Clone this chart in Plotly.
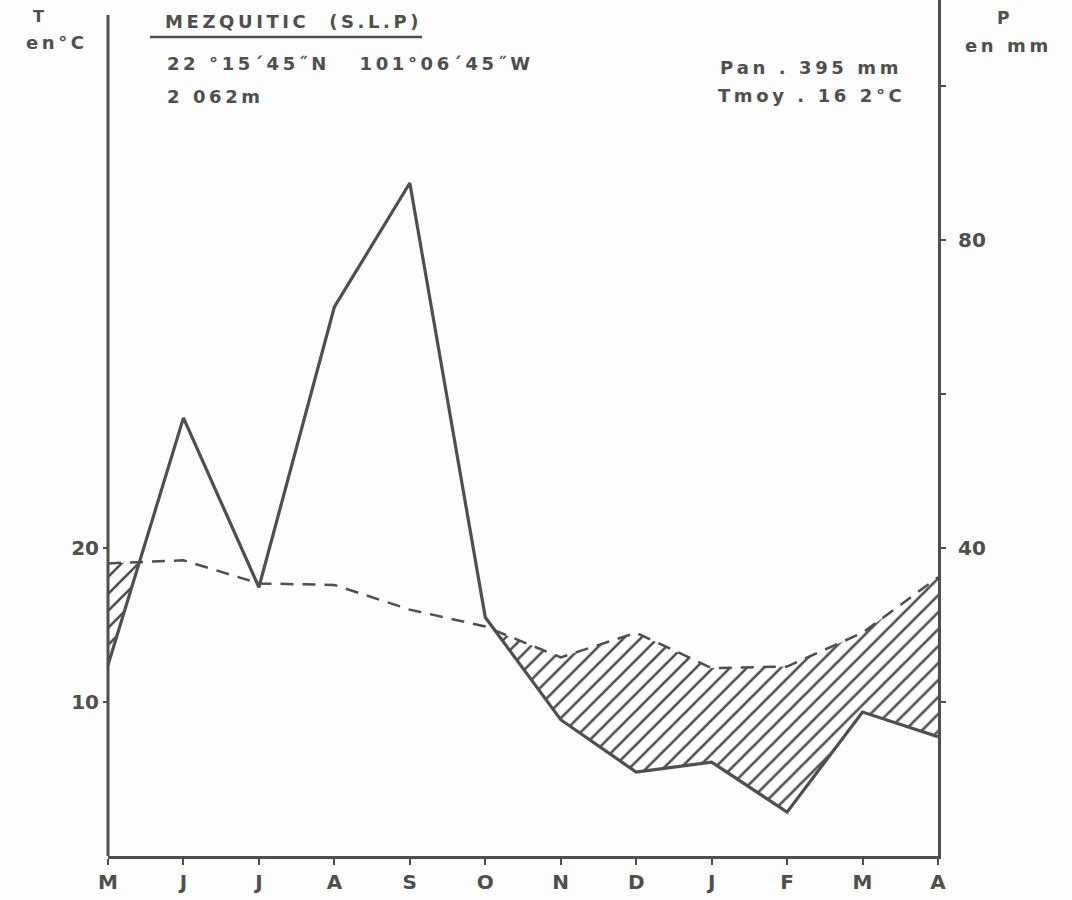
import plotly.graph_objects as go

# Ombrothermic diagram, Mezquitic (S.L.P), May to April
months = ["M", "J", "J", "A", "S", "O", "N", "D", "J", "F", "M", "A"]
precip_mm = [24.8, 56.9, 34.9, 71.3, 87.4, 31.0, 17.7, 10.9, 12.2, 5.7, 18.7, 15.5]
temp_c = [19.0, 19.2, 17.7, 17.6, 16.0, 14.9, 12.9, 14.5, 12.2, 12.3, 14.5, 18.1]

t_ticks = [10, 20]
p_ticks = [20, 40, 60, 80, 100]
p_ticklabels = ["", "40", "", "80", ""]

INK = "#4f4f4d"
FONT = "DejaVu Sans"

# Page geometry (pixels) of the plotting box
W, H = 1072, 900
L, R, T, B = 108, 938, 0, 856
P_MAX = (B - T) / 7.7          # mm at top of the box (P = 2T scale)
T_MAX = P_MAX / 2.0

x = list(range(len(months)))
two_t = [2 * v for v in temp_c]

# Dry-period envelope: insert crossing points between P and 2T
hx, lower, upper = [], [], []
for i in range(len(x)):
    if i > 0:
        d0 = two_t[i - 1] - precip_mm[i - 1]
        d1 = two_t[i] - precip_mm[i]
        if d0 * d1 < 0:
            f = d0 / (d0 - d1)
            xc = x[i - 1] + f * (x[i] - x[i - 1])
            pc = precip_mm[i - 1] + f * (precip_mm[i] - precip_mm[i - 1])
            hx.append(xc)
            lower.append(pc)
            upper.append(pc)
    hx.append(x[i])
    lower.append(precip_mm[i])
    upper.append(max(precip_mm[i], two_t[i]))

fig = go.Figure()
fig.add_trace(go.Scatter(x=hx, y=lower, yaxis="y2", mode="lines",
                         line=dict(width=0, color="rgba(0,0,0,0)"),
                         hoverinfo="skip", showlegend=False))
fig.add_trace(go.Scatter(x=hx, y=upper, yaxis="y2", mode="lines",
                         line=dict(width=0, color="rgba(0,0,0,0)"),
                         fill="tonexty", fillcolor="rgba(0,0,0,0)",
                         fillpattern=dict(shape="/", fgcolor=INK, fgopacity=1,
                                          bgcolor="rgba(0,0,0,0)", size=12, solidity=0.22),
                         hoverinfo="skip", showlegend=False))
fig.add_trace(go.Scatter(x=x, y=temp_c, yaxis="y", mode="lines",
                         line=dict(color=INK, width=2.5, dash="13px,9px"),
                         showlegend=False, name="T"))
fig.add_trace(go.Scatter(x=x, y=precip_mm, yaxis="y2", mode="lines",
                         line=dict(color=INK, width=3.2),
                         showlegend=False, name="P"))


def px(xp, yp):
    return (xp - L) / (R - L), (B - yp) / (B - T)


def spaced(s, sep="\u2009"):
    # hand-lettered look: a thin space between glyphs
    return sep.join(s)


def label(xp, yp, text, size=17, anchor="left", **kw):
    ax, ay = px(xp, yp)
    fig.add_annotation(x=ax, y=ay, xref="paper", yref="paper", text=text,
                       showarrow=False, xanchor=anchor, yanchor="middle",
                       font=dict(family=FONT, size=size, color=INK, weight="bold", **kw))


label(38, 17, "T", size=16, anchor="center")
label(55, 43, spaced("en°C"), size=18, anchor="center")
label(1003, 18, "P", size=17, anchor="center")
label(1006, 45, spaced("en mm"), size=18, anchor="center")
label(163, 21, spaced("MEZQUITIC  (S.L.P)"), size=18)
label(165, 63, spaced("22 °15´45˝N   101°06´45˝W"), size=18)
label(165, 97, spaced("2 062m"), size=18)
label(718, 67, spaced("Pan . 395 mm"), size=18)
label(716, 95, spaced("Tmoy . 16 2°C"), size=18)

# underline under the station name
u0 = px(150, 37)
u1 = px(422, 37)
fig.add_shape(type="line", xref="paper", yref="paper", x0=u0[0], x1=u1[0], y0=u0[1], y1=u1[1],
              line=dict(color=INK, width=2.5))
# left (temperature) axis line, starting a little below the top
a0 = px(L, 15)
fig.add_shape(type="line", xref="paper", yref="paper", x0=0, x1=0, y0=0, y1=a0[1],
              line=dict(color=INK, width=3))

tick_font = dict(family=FONT, size=20, color=INK, weight="bold")
fig.update_layout(
    width=W, height=H,
    margin=dict(l=L, r=W - R, t=T, b=H - B),
    paper_bgcolor="#fdfdfd", plot_bgcolor="#fdfdfd",
    showlegend=False,
    xaxis=dict(range=[0, 11], tickvals=x, ticktext=months, showgrid=False, zeroline=False,
               showline=True, linecolor=INK, linewidth=3, ticks="outside", ticklen=6,
               tickwidth=2, tickcolor=INK, tickfont=tick_font),
    yaxis=dict(range=[0, T_MAX], tickvals=t_ticks, ticktext=[str(v) for v in t_ticks],
               showgrid=False, zeroline=False, showline=False, ticks="outside", ticklen=4,
               tickwidth=2, tickcolor=INK, tickfont=tick_font),
    yaxis2=dict(range=[0, P_MAX], overlaying="y", side="right", tickvals=p_ticks,
                ticktext=p_ticklabels, showgrid=False, zeroline=False, showline=True,
                linecolor=INK, linewidth=3, ticks="outside", ticklen=5, tickwidth=2,
                tickcolor=INK, ticklabelstandoff=8, tickfont=tick_font),
)

fig.write_html("out.html")
